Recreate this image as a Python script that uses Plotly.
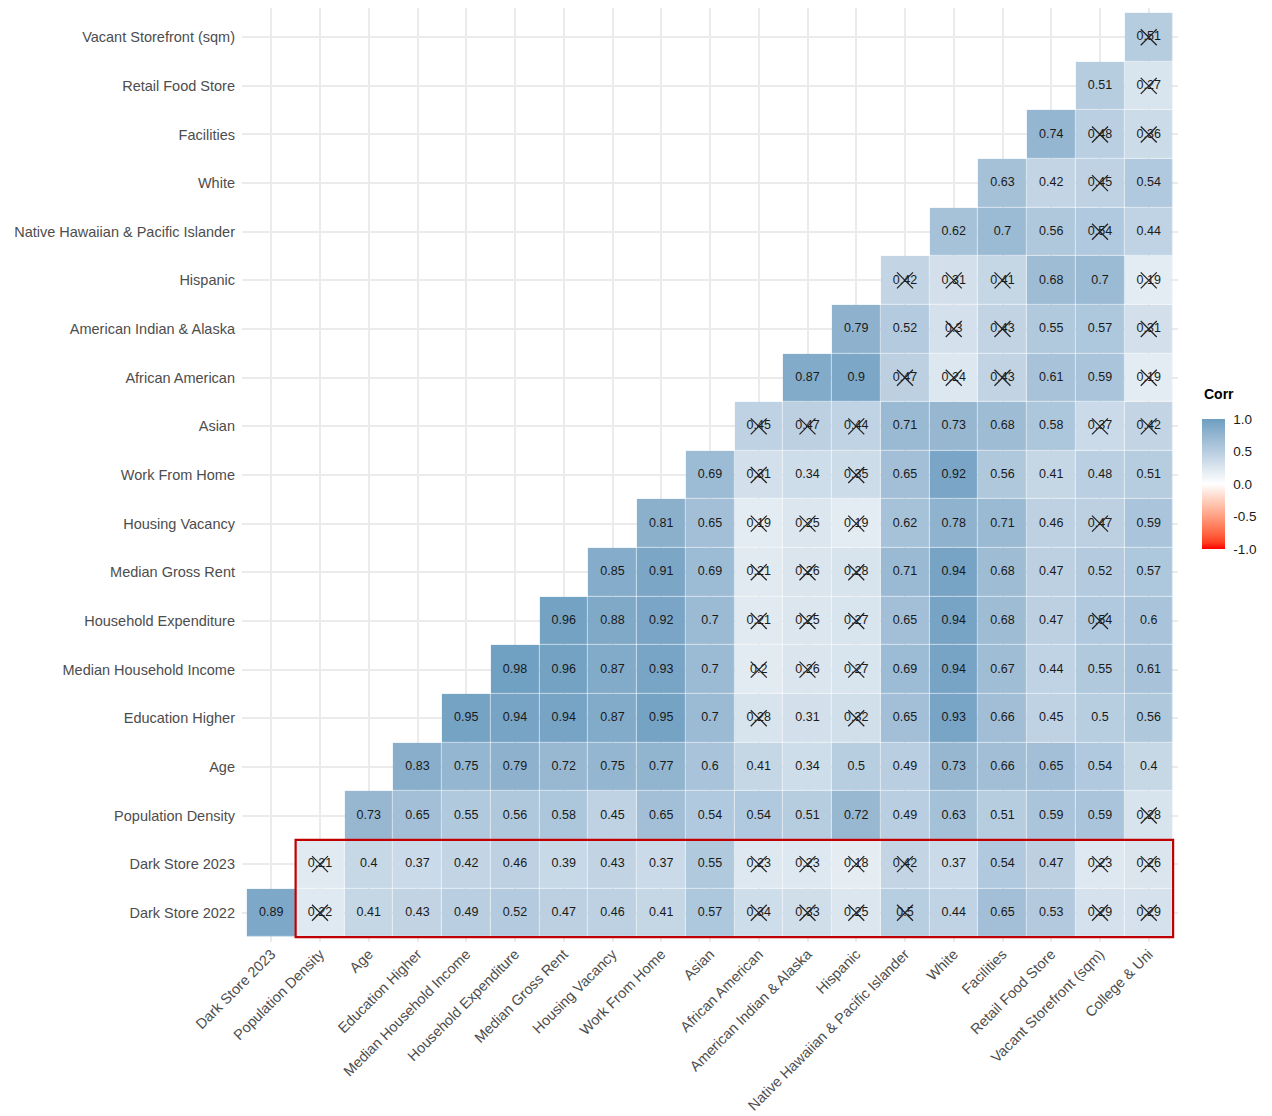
import numpy as np
import plotly.graph_objects as go

# ---------------- data ----------------
variables = [
    "Dark Store 2022", "Dark Store 2023", "Population Density", "Age",
    "Education Higher", "Median Household Income", "Household Expenditure",
    "Median Gross Rent", "Housing Vacancy", "Work From Home", "Asian",
    "African American", "American Indian & Alaska", "Hispanic",
    "Native Hawaiian & Pacific Islander", "White", "Facilities",
    "Retail Food Store", "Vacant Storefront (sqm)", "College & Uni",
]
x_labels = variables[1:]
y_labels = variables[:-1]

# each row: correlations of the row variable with every later variable
r_dark_store_2022 = [0.89, 0.22, 0.41, 0.43, 0.49, 0.52, 0.47, 0.46, 0.41, 0.57, 0.34, 0.33, 0.25, 0.5, 0.44, 0.65, 0.53, 0.29, 0.29]
r_dark_store_2023 = [0.21, 0.4, 0.37, 0.42, 0.46, 0.39, 0.43, 0.37, 0.55, 0.23, 0.23, 0.18, 0.42, 0.37, 0.54, 0.47, 0.23, 0.26]
r_population_density = [0.73, 0.65, 0.55, 0.56, 0.58, 0.45, 0.65, 0.54, 0.54, 0.51, 0.72, 0.49, 0.63, 0.51, 0.59, 0.59, 0.28]
r_age = [0.83, 0.75, 0.79, 0.72, 0.75, 0.77, 0.6, 0.41, 0.34, 0.5, 0.49, 0.73, 0.66, 0.65, 0.54, 0.4]
r_education_higher = [0.95, 0.94, 0.94, 0.87, 0.95, 0.7, 0.28, 0.31, 0.32, 0.65, 0.93, 0.66, 0.45, 0.5, 0.56]
r_median_household_income = [0.98, 0.96, 0.87, 0.93, 0.7, 0.2, 0.26, 0.27, 0.69, 0.94, 0.67, 0.44, 0.55, 0.61]
r_household_expenditure = [0.96, 0.88, 0.92, 0.7, 0.21, 0.25, 0.27, 0.65, 0.94, 0.68, 0.47, 0.54, 0.6]
r_median_gross_rent = [0.85, 0.91, 0.69, 0.21, 0.26, 0.28, 0.71, 0.94, 0.68, 0.47, 0.52, 0.57]
r_housing_vacancy = [0.81, 0.65, 0.19, 0.25, 0.19, 0.62, 0.78, 0.71, 0.46, 0.47, 0.59]
r_work_from_home = [0.69, 0.31, 0.34, 0.35, 0.65, 0.92, 0.56, 0.41, 0.48, 0.51]
r_asian = [0.45, 0.47, 0.44, 0.71, 0.73, 0.68, 0.58, 0.37, 0.42]
r_african_american = [0.87, 0.9, 0.47, 0.24, 0.43, 0.61, 0.59, 0.19]
r_american_indian = [0.79, 0.52, 0.3, 0.43, 0.55, 0.57, 0.31]
r_hispanic = [0.42, 0.31, 0.41, 0.68, 0.7, 0.19]
r_native_hawaiian = [0.62, 0.7, 0.56, 0.54, 0.44]
r_white = [0.63, 0.42, 0.45, 0.54]
r_facilities = [0.74, 0.48, 0.36]
r_retail_food_store = [0.51, 0.27]
r_vacant_storefront = [0.51]

# 1 = not significant (crossed out)
ns_dark_store_2022 = [0, 1, 0, 0, 0, 0, 0, 0, 0, 0, 1, 1, 1, 1, 0, 0, 0, 1, 1]
ns_dark_store_2023 = [1, 0, 0, 0, 0, 0, 0, 0, 0, 1, 1, 1, 1, 0, 0, 0, 1, 1]
ns_population_density = [0, 0, 0, 0, 0, 0, 0, 0, 0, 0, 0, 0, 0, 0, 0, 0, 1]
ns_age = [0] * 16
ns_education_higher = [0, 0, 0, 0, 0, 0, 1, 0, 1, 0, 0, 0, 0, 0, 0]
ns_median_household_income = [0, 0, 0, 0, 0, 1, 1, 1, 0, 0, 0, 0, 0, 0]
ns_household_expenditure = [0, 0, 0, 0, 1, 1, 1, 0, 0, 0, 0, 1, 0]
ns_median_gross_rent = [0, 0, 0, 1, 1, 1, 0, 0, 0, 0, 0, 0]
ns_housing_vacancy = [0, 0, 1, 1, 1, 0, 0, 0, 0, 1, 0]
ns_work_from_home = [0, 1, 0, 1, 0, 0, 0, 0, 0, 0]
ns_asian = [1, 1, 1, 0, 0, 0, 0, 1, 1]
ns_african_american = [0, 0, 1, 1, 1, 0, 0, 1]
ns_american_indian = [0, 0, 1, 1, 0, 0, 1]
ns_hispanic = [1, 1, 1, 0, 0, 1]
ns_native_hawaiian = [0, 0, 0, 1, 0]
ns_white = [0, 0, 1, 0]
ns_facilities = [0, 1, 1]
ns_retail_food_store = [0, 1]
ns_vacant_storefront = [1]

legend_ticks = [-1, -0.5, 0, 0.5, 1]
legend_tick_text = ["-1.0", "-0.5", "0.0", "0.5", "1.0"]

rows = [r_dark_store_2022, r_dark_store_2023, r_population_density, r_age,
        r_education_higher, r_median_household_income, r_household_expenditure,
        r_median_gross_rent, r_housing_vacancy, r_work_from_home, r_asian,
        r_african_american, r_american_indian, r_hispanic, r_native_hawaiian,
        r_white, r_facilities, r_retail_food_store, r_vacant_storefront]
flags = [ns_dark_store_2022, ns_dark_store_2023, ns_population_density, ns_age,
         ns_education_higher, ns_median_household_income, ns_household_expenditure,
         ns_median_gross_rent, ns_housing_vacancy, ns_work_from_home, ns_asian,
         ns_african_american, ns_american_indian, ns_hispanic, ns_native_hawaiian,
         ns_white, ns_facilities, ns_retail_food_store, ns_vacant_storefront]

# ---------------- colour scale (Lab interpolation like ggplot gradient2) ----------------
def hex2rgb(h):
    h = h.lstrip("#")
    return np.array([int(h[i:i + 2], 16) / 255 for i in (0, 2, 4)])

def srgb2lab(c):
    c = np.where(c <= 0.04045, c / 12.92, ((c + 0.055) / 1.055) ** 2.4)
    M = np.array([[0.4124, 0.3576, 0.1805], [0.2126, 0.7152, 0.0722], [0.0193, 0.1192, 0.9505]])
    xyz = M @ c / np.array([0.95047, 1.0, 1.08883])
    f = np.where(xyz > 0.008856, np.cbrt(xyz), 7.787 * xyz + 16 / 116)
    return np.array([116 * f[1] - 16, 500 * (f[0] - f[1]), 200 * (f[1] - f[2])])

def lab2srgb(lab):
    fy = (lab[0] + 16) / 116
    fx = fy + lab[1] / 500
    fz = fy - lab[2] / 200
    f = np.array([fx, fy, fz])
    xyz = np.where(f ** 3 > 0.008856, f ** 3, (f - 16 / 116) / 7.787) * np.array([0.95047, 1.0, 1.08883])
    Minv = np.array([[3.2406, -1.5372, -0.4986], [-0.9689, 1.8758, 0.0415], [0.0557, -0.2040, 1.0570]])
    c = np.clip(Minv @ xyz, 0, 1)
    c = np.where(c <= 0.0031308, 12.92 * c, 1.055 * c ** (1 / 2.4) - 0.055)
    return "rgb({},{},{})".format(*[int(round(v * 255)) for v in np.clip(c, 0, 1)])

low, mid, high = "#FF0000", "#FFFFFF", "#6D9EC1"
L_low, L_mid, L_high = srgb2lab(hex2rgb(low)), srgb2lab(hex2rgb(mid)), srgb2lab(hex2rgb(high))
colorscale = []
n = 20
for i in range(n + 1):
    t = i / n
    if t <= 0.5:
        lab = L_low + (L_mid - L_low) * (t / 0.5)
    else:
        lab = L_mid + (L_high - L_mid) * ((t - 0.5) / 0.5)
    colorscale.append([t, lab2srgb(lab)])

# ---------------- build matrix ----------------
N = len(x_labels)
z = [[None] * N for _ in range(N)]
tx, ty, tt, cx, cy = [], [], [], [], []
for yi, (vals, fl) in enumerate(zip(rows, flags)):
    for k, (v, f) in enumerate(zip(vals, fl)):
        xi = yi + k
        z[yi][xi] = v
        tx.append(xi)
        ty.append(yi)
        tt.append(f"{v:g}")
        if f:
            cx.append(xi)
            cy.append(yi)

fig = go.Figure()
fig.add_trace(go.Heatmap(
    z=z, x=list(range(N)), y=list(range(N)),
    colorscale=colorscale, zmin=-1, zmax=1, xgap=0.6, ygap=0.6,
    hoverinfo="skip",
    colorbar=dict(
        tickvals=legend_ticks, ticktext=legend_tick_text,
        tickfont=dict(size=13.5, color="#1a1a1a"),
        ticks="outside", ticklen=6, tickcolor="rgba(0,0,0,0)",
        thickness=23, thicknessmode="pixels",
        len=130, lenmode="pixels",
        x=1.0256, xanchor="left", xpad=0,
        y=0.4904, yanchor="middle", ypad=0,
        outlinewidth=0,
    ),
))
fig.add_trace(go.Scatter(
    x=tx, y=ty, text=tt, mode="text",
    textfont=dict(size=12.5, color="#1a1a1a", family="Liberation Sans, Arial"),
    hoverinfo="skip", showlegend=False,
))
fig.add_trace(go.Scatter(
    x=cx, y=cy, mode="markers",
    marker=dict(symbol="x-thin", size=16, line=dict(width=1.25, color="#222222")),
    hoverinfo="skip", showlegend=False,
))

fig.add_annotation(text="<b>Corr</b>", xref="paper", yref="paper",
                   x=1.0256, y=0.5867, xanchor="left", yanchor="middle",
                   showarrow=False, font=dict(size=14, color="#000000"))

# highlight box around the dark store rows
x_start = x_labels.index("Population Density") - 0.5
x_end = N - 0.5
fig.add_shape(type="rect", xref="x", yref="y",
              x0=x_start, x1=x_end, y0=-0.5, y1=1.5,
              line=dict(color="#C00000", width=2.2), fillcolor="rgba(0,0,0,0)", layer="above")

fig.update_layout(
    width=1264, height=1108,
    margin=dict(l=234, r=94, t=0, b=174, autoexpand=False),
    plot_bgcolor="white", paper_bgcolor="white",
    font=dict(family="Liberation Sans, Arial", color="#4d4d4d"),
    showlegend=False,
)
fig.update_xaxes(
    range=[-0.6, N - 0.4], tickmode="array", tickvals=list(range(N)), ticktext=x_labels,
    tickangle=-45, tickfont=dict(size=14.5, color="#4d4d4d"),
    showgrid=True, gridcolor="#ebebeb", gridwidth=1.7, zeroline=False, showline=False,
    ticks="", automargin=False,
)
fig.update_yaxes(
    range=[-0.6, N - 0.4], tickmode="array", tickvals=list(range(N)), ticktext=y_labels,
    tickfont=dict(size=14.5, color="#4d4d4d"),
    showgrid=True, gridcolor="#ebebeb", gridwidth=1.7, zeroline=False, showline=False,
    ticks="", automargin=False, ticklabelstandoff=6,
)

fig.write_html("out.html")
